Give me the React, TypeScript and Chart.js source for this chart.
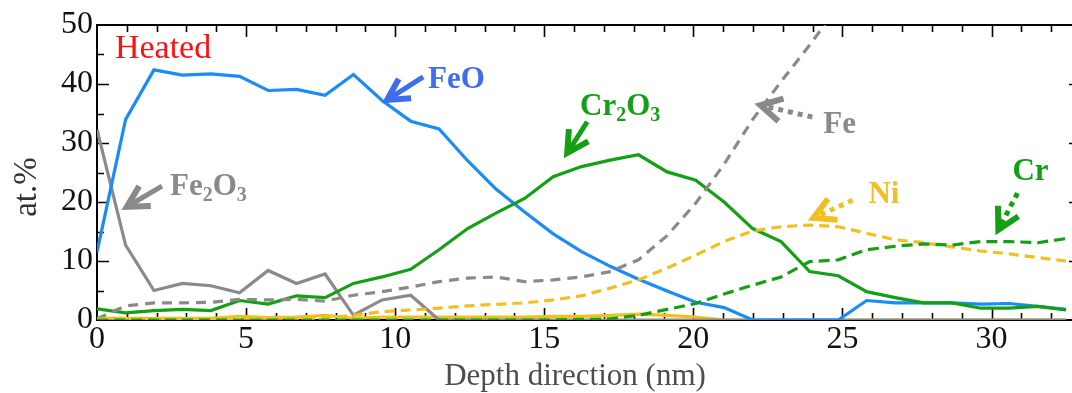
import React, { useEffect, useRef } from "react";
import { Chart, registerables } from "chart.js";

Chart.register(...registerables);

const SERIF = '"Liberation Serif", "Times New Roman", serif';

// Depth (nm) of each measurement
const depth = [0, 0.96, 1.91, 2.87, 3.82, 4.78, 5.74, 6.69, 7.65, 8.6, 9.56, 10.52, 11.47, 12.43, 13.38, 14.34, 15.3, 16.25, 17.21, 18.16, 19.12, 20.08, 21.03, 21.99, 22.94, 23.9, 24.86, 25.81, 26.77, 27.72, 28.68, 29.64, 30.59, 31.55, 32.5];

// at.% series
const feO = [11.5, 34, 42.4, 41.5, 41.7, 41.3, 38.9, 39.1, 38.1, 41.6, 37.2, 33.7, 32.4, 27.0, 22.2, 18.3, 14.6, 11.6, 9.1, 6.9, 4.9, 3.0, 2.1, 0, 0, 0, 0, 3.3, 2.9, 2.9, 2.9, 2.7, 2.8, 2.3, 1.8];
const cr2O3 = [1.9, 1.2, 1.6, 1.8, 1.6, 3.3, 2.7, 4.1, 3.8, 6.2, 7.3, 8.6, 11.9, 15.5, 18.1, 20.6, 24.3, 26.0, 27.1, 28.0, 25.1, 23.7, 20.0, 15.5, 13.3, 8.2, 7.5, 4.8, 3.8, 2.9, 2.9, 2.0, 2.0, 2.3, 1.7];
const fe2O3 = [32.3, 12.7, 5.0, 6.2, 5.8, 4.6, 8.4, 6.2, 7.8, 0.8, 3.4, 4.2, 0, 0, 0, 0, 0, 0, 0, 0, 0, 0, 0, 0, 0, 0, 0, 0, 0, 0, 0, 0, 0, 0, 0];
const fe = [0.2, 2.4, 2.9, 2.9, 3.0, 3.5, 3.4, 3.5, 3.2, 4.2, 4.8, 5.6, 6.5, 7.1, 7.3, 6.5, 6.8, 7.3, 8.2, 10.2, 14.3, 19.8, 26.4, 34.0, 40.4, 46.6, 53.2, null, null, null, null, null, null, null, null];
const ni = [0.2, 0.2, 0.2, 0.2, 0.2, 0.3, 0.3, 0.3, 0.3, 0.8, 1.4, 1.7, 2.0, 2.4, 2.65, 2.9, 3.4, 4.1, 5.4, 6.8, 8.8, 11.0, 13.3, 15.1, 15.8, 16.1, 15.8, 14.7, 13.6, 13.1, 12.4, 11.7, 11.2, 10.6, 10.0];
const cr = [0, 0, 0, 0, 0, 0, 0, 0, 0, 0, 0, 0, 0, 0, 0, 0, 0, 0.1, 0.2, 0.8, 1.8, 2.8, 4.4, 5.9, 7.3, 9.9, 10.2, 11.9, 12.5, 12.9, 12.7, 13.3, 13.3, 13.1, 13.8];
const niO = [0.3, 0.3, 0.3, 0.3, 0.3, 0.6, 0.4, 0.5, 0.8, 0.3, 0.5, 0.5, 0.5, 0.5, 0.5, 0.5, 0.6, 0.6, 0.8, 1.0, 0.8, 0.5, 0, 0, 0, 0, 0, 0, 0, 0, 0, 0, 0, 0, 0];

// axis ticks / titles
const xTickStep = 5;
const yTickStep = 10;
const xTitle = "Depth direction (nm)";
const yTitle = "at.%";
const sampleLabel = "Heated";

const BLUE = "#1a8cf5";
const GREEN = "#14a014";
const GREY = "#8a8a8a";
const YELLOW = "#f2c01e";

type Part = { t: string; sub?: boolean };
type Note = { parts: Part[]; color: string; at: number[]; tail: number[]; tip: number[]; dotted: boolean };

const notes: Note[] = [
  { parts: [{ t: "FeO" }], color: "#3f6df0", at: [11.1, 39.3], tail: [10.94, 41.2], tip: [9.73, 37.3], dotted: false },
  { parts: [{ t: "Cr" }, { t: "2", sub: true }, { t: "O" }, { t: "3", sub: true }], color: GREEN, at: [16.2, 34.7], tail: [16.44, 33.6], tip: [15.77, 28.3], dotted: false },
  { parts: [{ t: "Fe" }, { t: "2", sub: true }, { t: "O" }, { t: "3", sub: true }], color: GREY, at: [2.45, 21.2], tail: [2.18, 22.7], tip: [1.0, 19.2], dotted: false },
  { parts: [{ t: "Fe" }], color: GREY, at: [24.36, 31.7], tail: [23.99, 34.4], tip: [22.25, 36.4], dotted: true },
  { parts: [{ t: "Ni" }], color: "#f0c020", at: [25.87, 19.8], tail: [25.34, 20.3], tip: [24.03, 17.3], dotted: true },
  { parts: [{ t: "Cr" }], color: GREEN, at: [30.7, 23.7], tail: [30.87, 21.5], tip: [30.23, 15.3], dotted: true },
];
const heatedAt = [0.6, 44.4];

const pts = (vals: (number | null)[]) => depth.map((d, i) => ({ x: d, y: vals[i] }));

function drawArrow(ctx: CanvasRenderingContext2D, x1: number, y1: number, x2: number, y2: number, color: string, dotted: boolean) {
  ctx.save();
  ctx.strokeStyle = color;
  ctx.lineWidth = 5;
  ctx.lineCap = "butt";
  ctx.setLineDash(dotted ? [5, 5] : []);
  ctx.beginPath();
  ctx.moveTo(x1, y1);
  ctx.lineTo(x2, y2);
  ctx.stroke();
  ctx.setLineDash([]);
  const ang = Math.atan2(y1 - y2, x1 - x2);
  const L = 24;
  const s = 0.5;
  ctx.lineWidth = 6;
  ctx.lineJoin = "miter";
  ctx.beginPath();
  ctx.moveTo(x2 + L * Math.cos(ang + s), y2 + L * Math.sin(ang + s));
  ctx.lineTo(x2, y2);
  ctx.lineTo(x2 + L * Math.cos(ang - s), y2 + L * Math.sin(ang - s));
  ctx.stroke();
  ctx.restore();
}

const framePlugin = {
  id: "frame",
  beforeDatasetsDraw(chart: any) {
    const { ctx, chartArea: a, scales } = chart;
    const x = scales.x;
    const y = scales.y;
    ctx.save();
    ctx.strokeStyle = "#000";
    ctx.lineWidth = 2;
    ctx.strokeRect(a.left, a.top, a.right - a.left, a.bottom - a.top);
    ctx.lineWidth = 1.6;
    ctx.beginPath();
    for (let v = 1; v < 33; v++) {
      const px = Math.round(x.getPixelForValue(v)) + 0.5;
      const len = v % 5 === 0 ? 12 : 7;
      ctx.moveTo(px, a.top);
      ctx.lineTo(px, a.top + len);
      ctx.moveTo(px, a.bottom);
      ctx.lineTo(px, a.bottom - len);
    }
    for (let v = 5; v < 50; v += 5) {
      const py = Math.round(y.getPixelForValue(v)) + 0.5;
      const len = v % 10 === 0 ? 12 : 7;
      ctx.moveTo(a.left, py);
      ctx.lineTo(a.left + len, py);
      ctx.moveTo(a.right, py);
      ctx.lineTo(a.right - len, py);
    }
    ctx.stroke();
    ctx.restore();
  },
  afterDatasetsDraw(chart: any) {
    const { ctx, scales } = chart;
    const x = scales.x;
    const y = scales.y;
    ctx.save();
    ctx.fillStyle = "#ff1010";
    ctx.font = `34px ${SERIF}`;
    ctx.textBaseline = "alphabetic";
    ctx.textAlign = "left";
    ctx.fillText(sampleLabel, x.getPixelForValue(heatedAt[0]), y.getPixelForValue(heatedAt[1]));
    for (const n of notes) {
      drawArrow(ctx, x.getPixelForValue(n.tail[0]), y.getPixelForValue(n.tail[1]), x.getPixelForValue(n.tip[0]), y.getPixelForValue(n.tip[1]), n.color, n.dotted);
      let cx = x.getPixelForValue(n.at[0]);
      const by = y.getPixelForValue(n.at[1]);
      ctx.fillStyle = n.color;
      for (const p of n.parts) {
        ctx.font = p.sub ? `bold 20px ${SERIF}` : `bold 31px ${SERIF}`;
        ctx.fillText(p.t, cx, p.sub ? by + 6 : by);
        cx += ctx.measureText(p.t).width;
      }
    }
    ctx.restore();
  },
  afterDraw(chart: any) {
    const { ctx } = chart;
    ctx.save();
    ctx.fillStyle = "#4d4d4d";
    ctx.font = `31px ${SERIF}`;
    ctx.textAlign = "center";
    ctx.textBaseline = "alphabetic";
    ctx.fillText(xTitle, 575, 385);
    ctx.fillStyle = "#333";
    ctx.font = `33px ${SERIF}`;
    ctx.translate(36, 187);
    ctx.rotate(-Math.PI / 2);
    ctx.fillText(yTitle, 0, 0);
    ctx.restore();
  },
};

export default function App() {
  const ref = useRef<HTMLCanvasElement | null>(null);
  useEffect(() => {
    if (!ref.current) return;
    const line = (label: string, vals: (number | null)[], color: string, dash: number[]) => ({
      label,
      data: pts(vals),
      borderColor: color,
      backgroundColor: color,
      borderWidth: 3.2,
      borderDash: dash,
      pointRadius: 0,
      tension: 0,
      fill: false,
      spanGaps: false,
    });
    const chart = new Chart(ref.current, {
      type: "line",
      data: {
        datasets: [
          line("Cr", cr, GREEN, [11, 6]),
          line("Ni", ni, YELLOW, [10, 6]),
          line("Fe", fe, GREY, [10, 7]),
          line("Cr2O3", cr2O3, GREEN, []),
          line("FeO", feO, BLUE, []),
          line("Fe2O3", fe2O3, GREY, []),
          line("NiO", niO, YELLOW, []),
        ],
      },
      options: {
        animation: false,
        responsive: false,
        layout: { padding: { left: 0, top: 25, right: 9, bottom: 0 } },
        plugins: { legend: { display: false }, tooltip: { enabled: false } },
        scales: {
          x: {
            type: "linear",
            min: 0,
            max: 33,
            grid: { display: false, drawTicks: false },
            border: { display: false },
            ticks: { stepSize: xTickStep, includeBounds: false, autoSkip: false, maxRotation: 0, padding: 0, color: "#111", font: { family: SERIF, size: 32 } },
            afterFit: (s: any) => { s.height = 73; },
          },
          y: {
            type: "linear",
            min: 0,
            max: 50,
            grid: { display: false, drawTicks: false },
            border: { display: false },
            ticks: { stepSize: yTickStep, padding: 4, color: "#111", font: { family: SERIF, size: 32 } },
            afterFit: (s: any) => { s.width = 97; },
          },
        },
      } as any,
      plugins: [framePlugin],
    });
    return () => chart.destroy();
  }, []);
  return (
    <div style={{ position: "absolute", left: 0, top: 0, width: 1072, height: 393, overflow: "hidden", background: "#fff" }}>
      <canvas ref={ref} width={1090} height={393} style={{ display: "block" }} />
    </div>
  );
}
